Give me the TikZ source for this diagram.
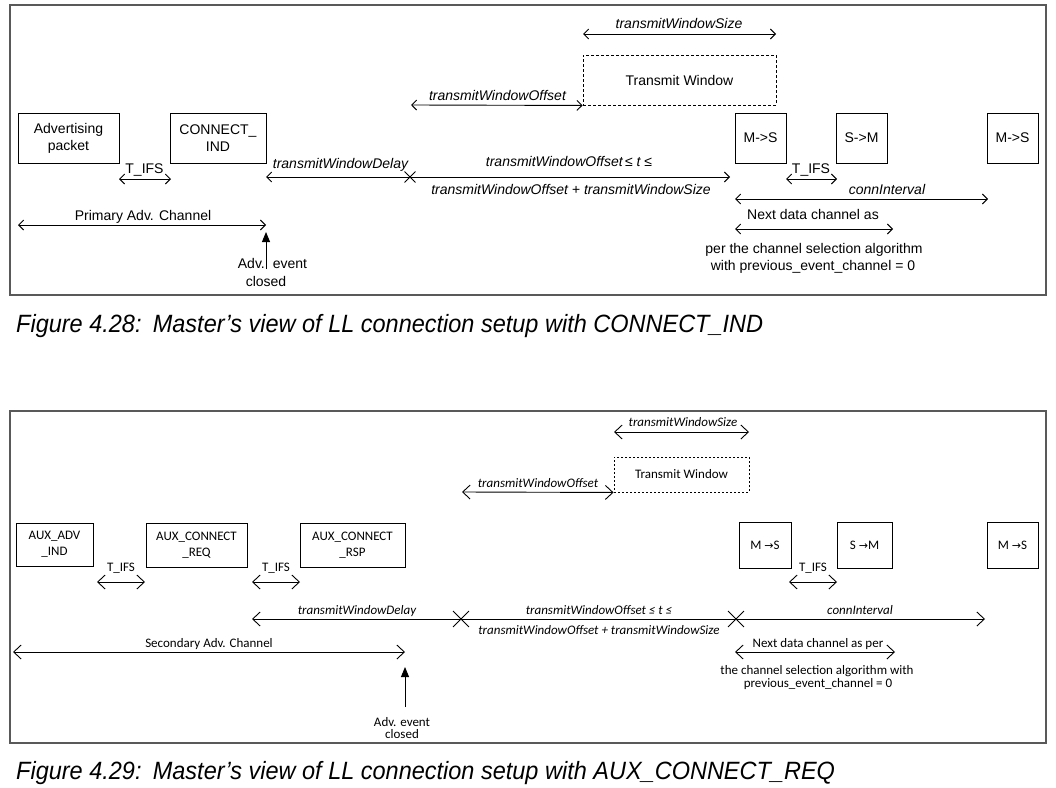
\documentclass[tikz,border=0pt]{standalone}
\usepackage{fontspec}
\setmainfont{Liberation Sans}
\newfontfamily\calfont{Carlito}
\newfontfamily\capfont{Liberation Sans}[FakeStretch=0.94]
\newfontfamily\symfont{DejaVu Sans}
\newcommand\myarr{{\symfont\fontsize{11}{13}\selectfont →}}
\usetikzlibrary{arrows.meta,shapes.misc}
\tikzset{
  TBarb/.tip={Straight Barb[length=5pt,width=10pt]},
  BBarb/.tip={Straight Barb[length=7.5pt,width=14pt]},
}
\begin{document}
\begin{tikzpicture}[x=1pt,y=-1pt,
  frame/.style={draw=black!65, line width=1.5pt},
  tfont/.style={font=\fontsize{14}{17}\selectfont},
  bfont/.style={font=\calfont\fontsize{13}{16}\selectfont},
  tbox/.style={draw, line width=0.9pt, inner sep=0pt, align=center, tfont},
  bbox/.style={draw, line width=0.9pt, inner sep=0pt, align=center, bfont},
  tlab/.style={inner sep=0pt, anchor=base, tfont},
  tilab/.style={inner sep=0pt, anchor=base, font=\fontsize{14}{17}\selectfont\itshape},
  blab/.style={inner sep=0pt, anchor=base, bfont},
  bilab/.style={inner sep=0pt, anchor=base, font=\calfont\fontsize{13}{16}\selectfont\itshape},
  tdim/.style={line width=0.9pt, TBarb-TBarb},
  tdimL/.style={line width=0.9pt, TBarb-},
  tdimR/.style={line width=0.9pt, -TBarb},
  bdim/.style={line width=0.9pt, BBarb-BBarb},
  bdimL/.style={line width=0.9pt, BBarb-},
  bdimR/.style={line width=0.9pt, -BBarb},
  tcross/.style={cross out, draw, line width=0.9pt, minimum size=10pt, inner sep=0pt},
  bcross/.style={cross out, draw, line width=0.9pt, minimum size=15pt, inner sep=0pt},
  evarrow/.style={line width=0.9pt, -{Triangle[length=10pt,width=8pt]}},
  caption/.style={inner sep=0pt, anchor=base west, font=\capfont\fontsize{25}{30}\selectfont\itshape},
]
\useasboundingbox (0,0) rectangle (1056,787);

% ================= Figure 4.28 =================
\draw[frame] (10,5) rectangle (1046,295);
\node[tbox, minimum width=101pt, minimum height=50pt] (adv) at (68.5,138) {Advertising\\packet};
\node[tbox, minimum width=96pt, minimum height=50pt] (cind) at (218,138) {CONNECT\_\\IND};
\node[tbox, minimum width=51pt, minimum height=50pt] (ms1) at (760.5,138) {M->S};
\node[tbox, minimum width=51pt, minimum height=50pt] (sm1) at (861.5,138) {S->M};
\node[tbox, minimum width=51pt, minimum height=50pt] (ms2) at (1012.5,138) {M->S};
\node[tbox, dash pattern=on 3pt off 2pt, minimum width=193pt, minimum height=50pt] (tw) at (679.5,80) {Transmit Window};

\coordinate (twsA) at (583,34);
\coordinate (twsB) at (776,34);
\draw[tdim] (twsA) -- (twsB);
\node[tilab] (twsl) at (679,28) {transmitWindowSize};

\coordinate (twoA) at (411,105);
\draw[tdim] (twoA) -- (tw.south west);
\node[tilab] (twol) at (497.5,100) {transmitWindowOffset};

\coordinate (tifsA) at (119,179);
\coordinate (tifsB) at (171,179);
\draw[tdim] (tifsA) -- (tifsB);
\node[tlab] (tifsl) at (144.5,173) {T\_IFS};

\coordinate (dlyA) at (266,177);
\node[tcross] (xa) at (410,177) {};
\draw[tdimL] (dlyA) -- (xa.center);
\node[tilab] (dlyl) at (340.5,168) {transmitWindowDelay};

\coordinate (midB) at (730,177);
\draw[tdimR] (xa.center) -- (midB);
\node[tilab] (midl1) at (569,166) {transmitWindowOffset\,≤ t ≤};
\node[tilab] (midl2) at (571,194) {transmitWindowOffset + transmitWindowSize};

\coordinate (tifs2A) at (786,179);
\coordinate (tifs2B) at (837,179);
\draw[tdim] (tifs2A) -- (tifs2B);
\node[tlab] (tifs2l) at (811,173) {T\_IFS};

\coordinate (ciA) at (735,199);
\coordinate (ciB) at (988,199);
\draw[tdim] (ciA) -- (ciB);
\node[tilab] (cil) at (887,194) {connInterval};

\coordinate (ndA) at (735,229);
\coordinate (ndB) at (893,229);
\draw[tdim] (ndA) -- (ndB);
\node[tlab] (ndl1) at (813,219) {Next data channel as};
\node[tlab] (ndl2) at (814,253) {per the channel selection algorithm};
\node[tlab] (ndl3) at (813,270) {with previous\_event\_channel = 0};

\coordinate (prA) at (18,225);
\coordinate (prB) at (266,225);
\draw[tdim] (prA) -- (prB);
\node[tlab] (prl) at (143,220) {Primary Adv. Channel};

\coordinate (evA) at (266,269);
\coordinate (evB) at (266,232);
\draw[evarrow] (evA) -- (evB);
\node[tlab] (evl1) at (272.5,268) {Adv.\hspace{8pt}event};
\node[tlab] (evl2) at (266,286) {closed};

\node[caption] (cap1) at (16,332) {Figure 4.28:\hspace{0.45em}Master’s view of LL connection setup with CONNECT\_IND};

% ================= Figure 4.29 =================
\draw[frame] (10,411) rectangle (1046,743);
\node[bbox, minimum width=77pt, minimum height=43pt] (auxadv) at (54.5,544.5) {AUX\_ADV\\\_IND};
\node[bbox, minimum width=101pt, minimum height=44pt] (auxreq) at (196.5,545) {AUX\_CONNECT\\\_REQ};
\node[bbox, minimum width=105pt, minimum height=44pt] (auxrsp) at (352.5,545) {AUX\_CONNECT\\\_RSP};
\node[bbox, minimum width=52pt, minimum height=46pt] (bms1) at (765,545) {M \myarr S};
\node[bbox, minimum width=55pt, minimum height=46pt] (bsm1) at (864.5,545) {S \myarr M};
\node[bbox, minimum width=51pt, minimum height=46pt] (bms2) at (1012.5,545) {M \myarr S};
\node[bbox, dash pattern=on 2pt off 2pt, minimum width=135pt, minimum height=35pt] (btw) at (681.5,474.5) {Transmit Window};

\coordinate (btwsA) at (614,432);
\coordinate (btwsB) at (749,432);
\draw[bdim] (btwsA) -- (btwsB);
\node[bilab] (btwsl) at (683,426) {transmitWindowSize};

\coordinate (btwoA) at (462,492);
\draw[bdim] (btwoA) -- (btw.south west);
\node[bilab] (btwol) at (538,487) {transmitWindowOffset};

\coordinate (bt1A) at (97,582);
\coordinate (bt1B) at (145,582);
\draw[bdim] (bt1A) -- (bt1B);
\node[blab] (bt1l) at (121,571) {T\_IFS};

\coordinate (bt2A) at (252,582);
\coordinate (bt2B) at (300,582);
\draw[bdim] (bt2A) -- (bt2B);
\node[blab] (bt2l) at (276,571) {T\_IFS};

\coordinate (bt3A) at (789,582);
\coordinate (bt3B) at (837,582);
\draw[bdim] (bt3A) -- (bt3B);
\node[blab] (bt3l) at (813,571) {T\_IFS};

\coordinate (bdlyA) at (252,619);
\node[bcross] (xb) at (461,619) {};
\node[bcross] (xc) at (736,619) {};
\draw[bdimL] (bdlyA) -- (xb.center);
\node[bilab] (bdlyl) at (357,614) {transmitWindowDelay};
\draw[line width=0.9pt] (xb.center) -- (xc.center);
\node[bilab] (bmidl1) at (599,614) {transmitWindowOffset ≤ t ≤};
\node[bilab] (bmidl2) at (599,634) {transmitWindowOffset + transmitWindowSize};

\coordinate (bciB) at (985,619);
\draw[bdimR] (xc.center) -- (bciB);
\node[bilab] (bcil) at (860,614) {connInterval};

\coordinate (secA) at (13,652);
\coordinate (secB) at (405,652);
\draw[bdim] (secA) -- (secB);
\node[blab] (secl) at (209,647) {Secondary Adv. Channel};

\coordinate (bndA) at (735,652);
\coordinate (bndB) at (895,652);
\draw[bdim] (bndA) -- (bndB);
\node[blab] (bndl1) at (818,647) {Next data channel as per};
\node[blab] (bndl2) at (817,674) {the channel selection algorithm with};
\node[blab] (bndl3) at (818,687) {previous\_event\_channel = 0};

\coordinate (bevA) at (405,707);
\coordinate (bevB) at (405,667);
\draw[evarrow] (bevA) -- (bevB);
\node[blab] (bevl1) at (402,726) {Adv. event};
\node[blab] (bevl2) at (402,738) {closed};

\node[caption] (cap2) at (16,779) {Figure 4.29:\hspace{0.45em}Master’s view of LL connection setup with AUX\_CONNECT\_REQ};
\end{tikzpicture}
\end{document}
